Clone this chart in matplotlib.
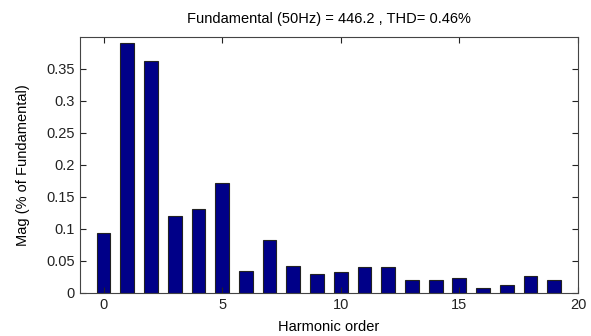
import matplotlib
matplotlib.use("Agg")
import matplotlib.pyplot as plt

plt.rcParams['font.family'] = ['Liberation Sans', 'DejaVu Sans']

harmonic_order = list(range(20))
magnitude = [0.093, 0.39, 0.362, 0.12, 0.132, 0.172, 0.035, 0.083, 0.042, 0.03,
             0.033, 0.04, 0.04, 0.021, 0.021, 0.023, 0.008, 0.012, 0.027, 0.02]
title = "Fundamental (50Hz) = 446.2 , THD= 0.46%"
xticks = [0, 5, 10, 15, 20]
yticks = [0, 0.05, 0.1, 0.15, 0.2, 0.25, 0.3, 0.35]
ytick_labels = ["0", "0.05", "0.1", "0.15", "0.2", "0.25", "0.3", "0.35"]

fig = plt.figure(figsize=(5.91, 3.36), dpi=100)
ax = fig.add_axes([0.135, 0.128, 0.843, 0.762])
ax.bar(harmonic_order, magnitude, width=0.58, color='#000088', edgecolor='#222222', linewidth=0.8)
ax.set_xlim(-1, 20)
ax.set_ylim(0, 0.4)
ax.set_xticks(xticks)
ax.set_yticks(yticks)
ax.set_yticklabels(ytick_labels)
ax.tick_params(direction='in', top=True, right=True, labelsize=10.5, length=4, width=0.8, colors='#222222')
for s in ax.spines.values():
    s.set_color('#444444')
    s.set_linewidth(0.8)
ax.set_title(title, fontsize=10.5, pad=10)
ax.set_xlabel("Harmonic order", fontsize=10.5, labelpad=6)
ax.set_ylabel("Mag (% of Fundamental)", fontsize=10.5, labelpad=12)
fig.savefig("out.png", dpi=100)
